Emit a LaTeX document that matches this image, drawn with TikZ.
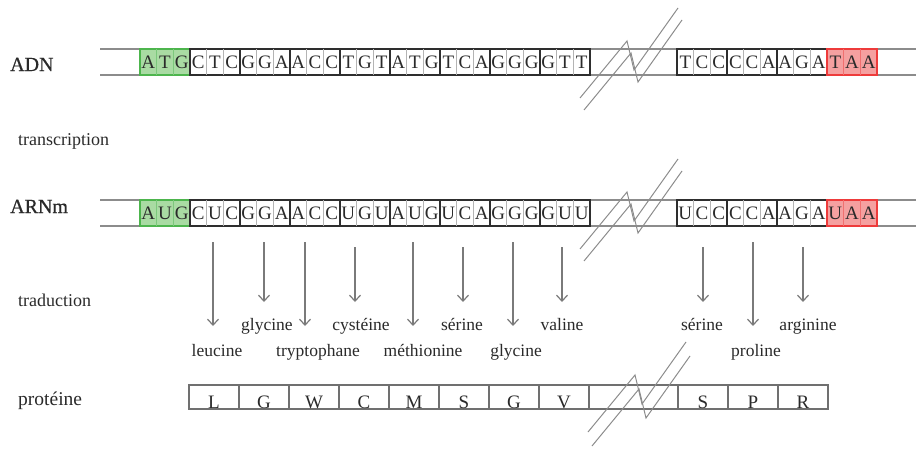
\documentclass[tikz,border=0pt]{standalone}
\usepackage{fontspec}
\setmainfont{Liberation Serif}
\newfontfamily\heavyserif{Liberation Serif}[FakeBold=0.6]
\usetikzlibrary{arrows.meta}
\definecolor{strand}{HTML}{8C8C8C}
\definecolor{boxline}{HTML}{2E2E2E}
\definecolor{sepcol}{HTML}{B4B4B4}
\definecolor{gfill}{HTML}{A9DBA3}
\definecolor{gline}{HTML}{4DB54D}
\definecolor{gsep}{HTML}{7CC87C}
\definecolor{rfill}{HTML}{F5A0A0}
\definecolor{rline}{HTML}{EE3B3B}
\definecolor{rsep}{HTML}{F07070}
\definecolor{txt}{HTML}{2A2A2A}
\definecolor{arrcol}{HTML}{7A7A7A}
\definecolor{protline}{HTML}{707070}
\tikzset{
  strandline/.style={draw=strand,line width=1.5pt},
  codonbox/.style={draw=boxline,line width=1.4pt,minimum width=50pt,minimum height=26pt,inner sep=0pt,outer sep=0pt},
  startbox/.style={fill=gfill,draw=gline},
  stopbox/.style={fill=rfill,draw=rline},
  plainbox/.style={},
  sep/.style={line width=0.8pt},
  nt/.style={anchor=base,inner sep=0pt,text=txt,font=\fontsize{19}{19}\selectfont},
  rowlabel/.style={anchor=base west,inner sep=0pt,text=txt},
  aa/.style={anchor=base,inner sep=0pt,text=txt,font=\fontsize{17.5}{17.5}\selectfont},
  arr/.style={draw=arrcol,line width=1.2pt,-{Straight Barb[length=6pt,width=11pt]}},
  breakline/.style={draw=strand,line width=1pt},
  protcell/.style={draw=protline,line width=1.2pt,minimum height=24pt,inner sep=0pt,outer sep=0pt,anchor=north west},
  aaletter/.style={anchor=base,inner sep=0pt,text=txt,font=\fontsize{19}{19}\selectfont},
}
\newcommand{\codon}[8]{%
  \node[codonbox,#4,anchor=north west] (#1) at (#2,#3) {};
  \draw[sep,draw=#5] ([xshift=16.67pt]#1.north west) -- ([xshift=16.67pt]#1.south west);
  \draw[sep,draw=#5] ([xshift=33.33pt]#1.north west) -- ([xshift=33.33pt]#1.south west);
  \node[nt] (#1a) at ([xshift=8.33pt,yshift=6.5pt]#1.south west) {#6};
  \node[nt] (#1b) at ([xshift=25pt,yshift=6.5pt]#1.south west) {#7};
  \node[nt] (#1c) at ([xshift=41.67pt,yshift=6.5pt]#1.south west) {#8};
}
\begin{document}
\begin{tikzpicture}[x=1pt,y=-1pt]
\useasboundingbox (0,0) rectangle (916,450);
% row labels
\node[rowlabel,font=\heavyserif\fontsize{20}{20}\selectfont] (lADN) at (10,71) {ADN};
\node[rowlabel,font=\fontsize{18}{18}\selectfont] (ltr) at (18,145) {transcription};
\node[rowlabel,font=\heavyserif\fontsize{20}{20}\selectfont] (lARN) at (10,213) {ARNm};
\node[rowlabel,font=\fontsize{18}{18}\selectfont] (ltd) at (18,306) {traduction};
\node[rowlabel,font=\fontsize{19.5}{19.5}\selectfont] (lpr) at (18,405) {protéine};
% strand lines
\coordinate (dt0) at (100,49); \coordinate (dt1) at (916,49);
\coordinate (db0) at (100,75); \coordinate (db1) at (916,75);
\coordinate (rt0) at (100,200); \coordinate (rt1) at (916,200);
\coordinate (rb0) at (100,226); \coordinate (rb1) at (916,226);
\draw[strandline] (dt0) -- (dt1);
\draw[strandline] (db0) -- (db1);
\draw[strandline] (rt0) -- (rt1);
\draw[strandline] (rb0) -- (rb1);
% ADN codons
\codon{d0}{140}{49}{startbox}{gsep}{A}{T}{G}
\foreach \i/\p/\q/\r in {1/C/T/C,2/G/G/A,3/A/C/C,4/T/G/T,5/A/T/G,6/T/C/A,7/G/G/G,8/G/T/T}{
  \codon{d\i}{140+50*\i}{49}{plainbox}{sepcol}{\p}{\q}{\r}
}
\foreach \i/\p/\q/\r in {0/T/C/C,1/C/C/A,2/A/G/A}{
  \codon{e\i}{677+50*\i}{49}{plainbox}{sepcol}{\p}{\q}{\r}
}
\codon{e3}{827}{49}{stopbox}{rsep}{T}{A}{A}
% ARNm codons
\codon{m0}{140}{200}{startbox}{gsep}{A}{U}{G}
\foreach \i/\p/\q/\r in {1/C/U/C,2/G/G/A,3/A/C/C,4/U/G/U,5/A/U/G,6/U/C/A,7/G/G/G,8/G/U/U}{
  \codon{m\i}{140+50*\i}{200}{plainbox}{sepcol}{\p}{\q}{\r}
}
\foreach \i/\p/\q/\r in {0/U/C/C,1/C/C/A,2/A/G/A}{
  \codon{n\i}{677+50*\i}{200}{plainbox}{sepcol}{\p}{\q}{\r}
}
\codon{n3}{827}{200}{stopbox}{rsep}{U}{A}{A}
% break marks
\foreach \dy in {0,151}{
  \draw[breakline] (580,98+\dy) -- (627,41+\dy) -- (634,70+\dy) -- (678,8+\dy);
  \draw[breakline] (584,110+\dy) -- (631,53+\dy) -- (638,82+\dy) -- (682,20+\dy);
}
% translation arrows
\foreach \k/\x/\ys/\ye in {1/213/242/326,2/264/242/302,3/305/242/326,4/355/247/302,5/413/242/326,6/463/247/302,7/513/242/326,8/562/247/302,9/703/247/302,10/753/242/326,11/803/247/302}{
  \coordinate (as\k) at (\x,\ys);
  \coordinate (ae\k) at (\x,\ye);
  \draw[arr] (as\k) -- (ae\k);
}
% amino acid names
\node[aa] (aa1) at (217,356) {leucine};
\node[aa] (aa2) at (267,330) {glycine};
\node[aa] (aa3) at (318,356) {tryptophane};
\node[aa] (aa4) at (361,330) {cystéine};
\node[aa] (aa5) at (423,356) {méthionine};
\node[aa] (aa6) at (462,330) {sérine};
\node[aa] (aa7) at (516,356) {glycine};
\node[aa] (aa8) at (562,330) {valine};
\node[aa] (aa9) at (702,330) {sérine};
\node[aa] (aa10) at (756,356) {proline};
\node[aa] (aa11) at (808,330) {arginine};
% protein
\foreach \i/\l in {0/L,1/G,2/W,3/C,4/M,5/S,6/G,7/V}{
  \node[protcell,minimum width=50pt] (p\i) at (189+50*\i,385) {};
  \node[aaletter] (pl\i) at (214+50*\i,408) {\l};
}
\node[protcell,minimum width=89pt] (pgap) at (589,385) {};
\foreach \i/\l in {0/S,1/P,2/R}{
  \node[protcell,minimum width=50pt] (q\i) at (678+50*\i,385) {};
  \node[aaletter] (ql\i) at (703+50*\i,408) {\l};
}
\draw[breakline] (588,432) -- (635,375) -- (642,404) -- (686,342);
\draw[breakline] (592,446) -- (639,389) -- (646,418) -- (690,356);
\end{tikzpicture}
\end{document}
